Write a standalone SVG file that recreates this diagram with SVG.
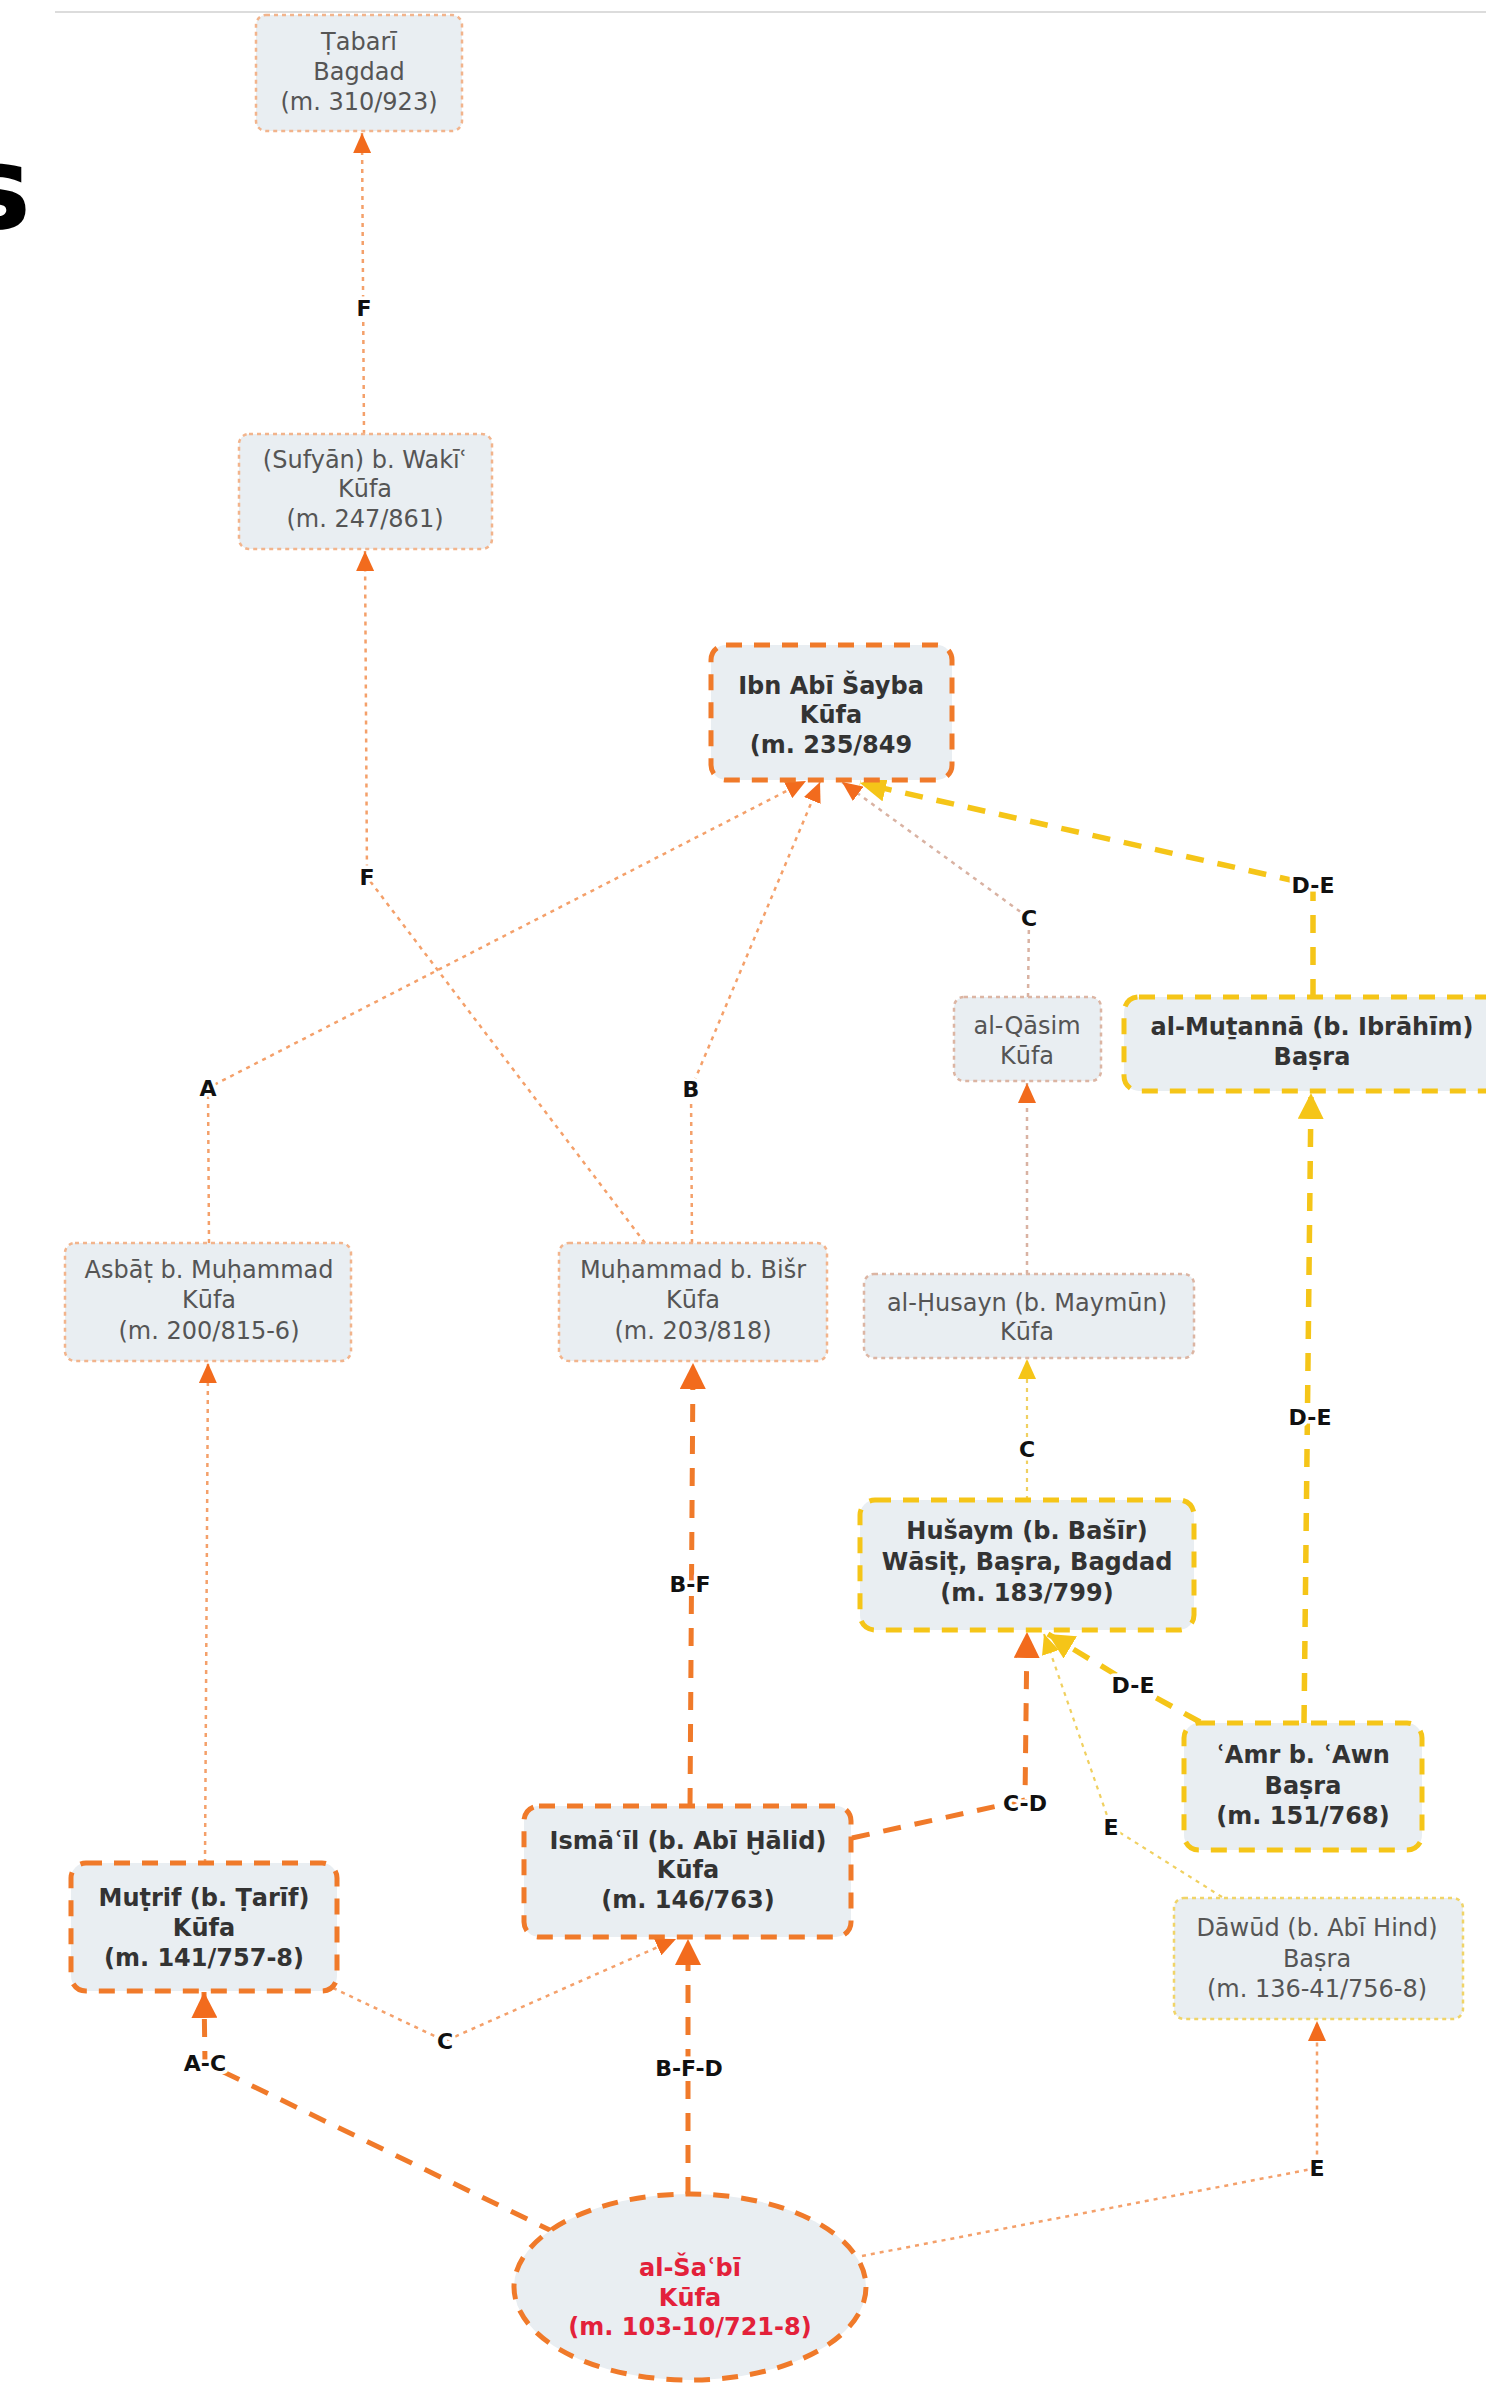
<svg xmlns="http://www.w3.org/2000/svg" width="1486" height="2385" viewBox="0 0 1486 2385">
<style>
.bg{fill:#ffffff}
.n{fill:#e9eef2}
.nthin{fill:#e9eef2;stroke:#f2b48c;stroke-width:2.5;stroke-dasharray:4 4}
.ngrey{fill:#e9eef2;stroke:#dcb5a3;stroke-width:2.5;stroke-dasharray:4 4}
.nyel{fill:#e9eef2;stroke:#f0d468;stroke-width:2.5;stroke-dasharray:4 4}
.nor{fill:#e9eef2;stroke:#f07a2a;stroke-width:5;stroke-dasharray:16 12}
.nye{fill:#e9eef2;stroke:#f5c518;stroke-width:5;stroke-dasharray:16 12}
.t{font-family:"DejaVu Sans",Verdana,sans-serif;font-size:24px;fill:#555;text-anchor:middle}
.tb{font-family:"DejaVu Sans",Verdana,sans-serif;font-size:24px;font-weight:bold;fill:#333;text-anchor:middle}
.red{fill:#e3213a}
.c{fill:none}
.co{stroke:#f4a06a;stroke-width:2.5;stroke-dasharray:4 5}
.cg{stroke:#d9b2a2;stroke-width:2.5;stroke-dasharray:4 5}
.cy{stroke:#f0d060;stroke-width:2.2;stroke-dasharray:4 5}
.CO{stroke:#f07a2a;stroke-width:5;stroke-dasharray:18 14}
.CY{stroke:#f5c518;stroke-width:5.5;stroke-dasharray:18 14}
.lbl{font-family:"DejaVu Sans",Verdana,sans-serif;font-size:22px;font-weight:bold;fill:#111;text-anchor:middle;stroke:#ffffff;stroke-width:7;paint-order:stroke;stroke-linejoin:round}
</style>
<defs>
<marker id="so" markerUnits="userSpaceOnUse" markerWidth="20" markerHeight="18" viewBox="0 0 20 18" refX="20" refY="9" orient="auto"><path d="M0,0 L20,9 L0,18 z" fill="#f26b1d"/></marker>
<marker id="sy" markerUnits="userSpaceOnUse" markerWidth="20" markerHeight="18" viewBox="0 0 20 18" refX="20" refY="9" orient="auto"><path d="M0,0 L20,9 L0,18 z" fill="#f5c518"/></marker>
<marker id="lo" markerUnits="userSpaceOnUse" markerWidth="26" markerHeight="26" viewBox="0 0 26 26" refX="26" refY="13" orient="auto"><path d="M0,0 L26,13 L0,26 z" fill="#f26b1d"/></marker>
<marker id="ly" markerUnits="userSpaceOnUse" markerWidth="26" markerHeight="26" viewBox="0 0 26 26" refX="26" refY="13" orient="auto"><path d="M0,0 L26,13 L0,26 z" fill="#f5c518"/></marker>
</defs>
<rect class="bg" x="0" y="0" width="1486" height="2385"/>
<line x1="55" y1="12" x2="1486" y2="12" stroke="#dcdcdc" stroke-width="2"/>
<text x="31" y="228" font-family="DejaVu Sans,sans-serif" font-weight="bold" font-size="116" text-anchor="end" fill="#000">s</text>

<g id="connectors">
<path class="c co" d="M364 434 L362 133" marker-end="url(#so)"/>
<path class="c co" d="M645 1243 L367 877 L365 551" marker-end="url(#so)"/>
<path class="c co" d="M209 1243 L208 1088 L806 781" marker-end="url(#so)"/>
<path class="c co" d="M692 1243 L691 1089 L820 782" marker-end="url(#so)"/>
<path class="c cg" d="M1028 997 L1029 918 L842 782" marker-end="url(#so)"/>
<path class="c CY" d="M1313 997 L1313 885 L860 783" marker-end="url(#ly)"/>
<path class="c cg" d="M1027 1274 L1027 1083" marker-end="url(#so)"/>
<path class="c cy" d="M1027 1500 L1027 1359" marker-end="url(#sy)"/>
<path class="c CY" d="M1304 1723 L1311 1093" marker-end="url(#ly)"/>
<path class="c CY" d="M1200 1722 L1133 1685 L1048 1634" marker-end="url(#ly)"/>
<path class="c CO" d="M690 1806 L693 1363" marker-end="url(#lo)"/>
<path class="c CO" d="M852 1838 L1025 1800 L1027 1632" marker-end="url(#lo)"/>
<path class="c co" d="M205 1863 L208 1363" marker-end="url(#so)"/>
<path class="c co" d="M333 1988 L445 2041 L676 1939" marker-end="url(#so)"/>
<path class="c CO" d="M556 2233 L205 2063 L204 1992" marker-end="url(#lo)"/>
<path class="c CO" d="M688 2195 L688 1939" marker-end="url(#lo)"/>
<path class="c co" d="M862 2256 L1317 2168 L1317 2021" marker-end="url(#so)"/>
<path class="c cy" d="M1222 1897 L1111 1827 L1044 1634" marker-end="url(#sy)"/>
<text class="lbl" x="364" y="316">F</text>
<text class="lbl" x="367" y="885">F</text>
<text class="lbl" x="208" y="1096">A</text>
<text class="lbl" x="691" y="1097">B</text>
<text class="lbl" x="1029" y="926">C</text>
<text class="lbl" x="1313" y="893">D-E</text>
<text class="lbl" x="1027" y="1457">C</text>
<text class="lbl" x="1310" y="1425">D-E</text>
<text class="lbl" x="1133" y="1693">D-E</text>
<text class="lbl" x="690" y="1592">B-F</text>
<text class="lbl" x="1025" y="1811">C-D</text>
<text class="lbl" x="1111" y="1835">E</text>
<text class="lbl" x="445" y="2049">C</text>
<text class="lbl" x="205" y="2071">A-C</text>
<text class="lbl" x="689" y="2076">B-F-D</text>
<text class="lbl" x="1317" y="2176">E</text>
</g>

<g id="node-tabari">
<rect class="nthin" x="256" y="15" width="206" height="116" rx="10"/>
<text class="t" x="359" y="50">Ṭabarī</text>
<text class="t" x="359" y="80">Bagdad</text>
<text class="t" x="359" y="110">(m. 310/923)</text>
</g>
<g id="node-sufyan">
<rect class="nthin" x="239" y="434" width="253" height="115" rx="10"/>
<text class="t" x="365" y="468">(Sufyān) b. Wakīʿ</text>
<text class="t" x="365" y="497">Kūfa</text>
<text class="t" x="365" y="527">(m. 247/861)</text>
</g>
<g id="node-ibnabisayba">
<rect class="nor" x="711" y="645" width="241" height="135" rx="15"/>
<text class="tb" x="831" y="694">Ibn Abī Šayba</text>
<text class="tb" x="831" y="723">Kūfa</text>
<text class="tb" x="831" y="753">(m. 235/849</text>
</g>
<g id="node-qasim">
<rect class="ngrey" x="954" y="997" width="147" height="84" rx="10"/>
<text class="t" x="1027" y="1034">al-Qāsim</text>
<text class="t" x="1027" y="1064">Kūfa</text>
</g>
<g id="node-mutanna">
<rect class="nye" x="1124" y="997" width="390" height="94" rx="15"/>
<text class="tb" x="1312" y="1035">al-Muṯannā (b. Ibrāhīm)</text>
<text class="tb" x="1312" y="1065">Baṣra</text>
</g>
<g id="node-asbat">
<rect class="nthin" x="65" y="1243" width="286" height="118" rx="10"/>
<text class="t" x="209" y="1278">Asbāṭ b. Muḥammad</text>
<text class="t" x="209" y="1308">Kūfa</text>
<text class="t" x="209" y="1339">(m. 200/815-6)</text>
</g>
<g id="node-muhammad">
<rect class="nthin" x="559" y="1243" width="268" height="118" rx="10"/>
<text class="t" x="693" y="1278">Muḥammad b. Bišr</text>
<text class="t" x="693" y="1308">Kūfa</text>
<text class="t" x="693" y="1339">(m. 203/818)</text>
</g>
<g id="node-husayn">
<rect class="ngrey" x="864" y="1274" width="330" height="84" rx="10"/>
<text class="t" x="1027" y="1311">al-Ḥusayn (b. Maymūn)</text>
<text class="t" x="1027" y="1340">Kūfa</text>
</g>
<g id="node-husaym">
<rect class="nye" x="860" y="1500" width="334" height="130" rx="15"/>
<text class="tb" x="1027" y="1539">Hušaym (b. Bašīr)</text>
<text class="tb" x="1027" y="1570">Wāsiṭ, Baṣra, Bagdad</text>
<text class="tb" x="1027" y="1601">(m. 183/799)</text>
</g>
<g id="node-amr">
<rect class="nye" x="1184" y="1723" width="238" height="127" rx="15"/>
<text class="tb" x="1303" y="1763">ʿAmr b. ʿAwn</text>
<text class="tb" x="1303" y="1794">Baṣra</text>
<text class="tb" x="1303" y="1824">(m. 151/768)</text>
</g>
<g id="node-ismail">
<rect class="nor" x="524" y="1806" width="327" height="131" rx="15"/>
<text class="tb" x="688" y="1849">Ismāʿīl (b. Abī Ḫālid)</text>
<text class="tb" x="688" y="1878">Kūfa</text>
<text class="tb" x="688" y="1908">(m. 146/763)</text>
</g>
<g id="node-mutrif">
<rect class="nor" x="71" y="1863" width="266" height="128" rx="15"/>
<text class="tb" x="204" y="1906">Muṭrif (b. Ṭarīf)</text>
<text class="tb" x="204" y="1936">Kūfa</text>
<text class="tb" x="204" y="1966">(m. 141/757-8)</text>
</g>
<g id="node-dawud">
<rect class="nyel" x="1174" y="1898" width="289" height="121" rx="10"/>
<text class="t" x="1317" y="1936">Dāwūd (b. Abī Hind)</text>
<text class="t" x="1317" y="1967">Baṣra</text>
<text class="t" x="1317" y="1997">(m. 136-41/756-8)</text>
</g>
<g id="node-shabi">
<ellipse class="nor" cx="690" cy="2287" rx="176" ry="93"/>
<text class="tb red" x="690" y="2276">al-Šaʿbī</text>
<text class="tb red" x="690" y="2306">Kūfa</text>
<text class="tb red" x="690" y="2335">(m. 103-10/721-8)</text>
</g>
</svg>
